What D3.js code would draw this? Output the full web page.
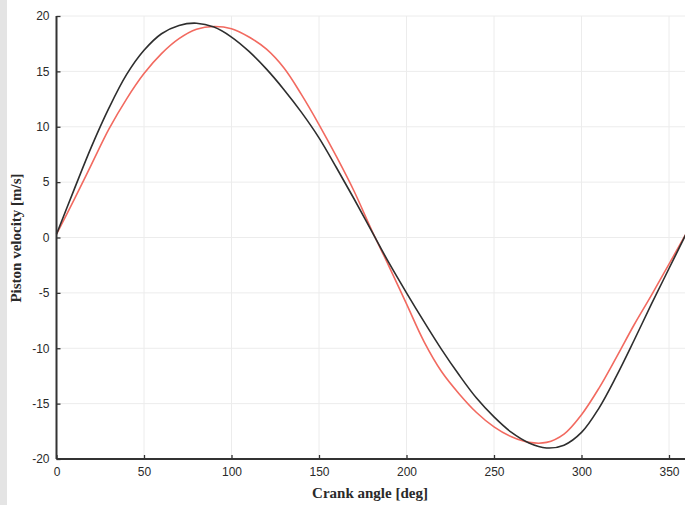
<!DOCTYPE html>
<html>
<head>
<meta charset="utf-8">
<script src="https://cdn.jsdelivr.net/npm/d3@7"></script>
<style>
  html, body { margin: 0; padding: 0; background: #fff; }
  svg { display: block; }
</style>
</head>
<body>
<svg id="chart"></svg>
<script>
// crank angle samples [deg]
var angles = [0, 10, 20, 30, 40, 50, 60, 70, 80, 90, 100, 110, 120, 130, 140, 150, 160, 170, 180,
  190, 200, 210, 220, 230, 240, 250, 260, 270, 280, 290, 300, 310, 320, 330, 340, 350, 360];

// piston velocity [m/s], black curve
var velBlack = [0.3, 4.3, 8.2, 11.7, 14.7, 16.9, 18.4, 19.15, 19.35, 19.0, 18.1, 16.8, 15.2, 13.35,
  11.3, 9.0, 6.3, 3.5, 0.6, -2.3, -5.0, -7.6, -10.1, -12.4, -14.5, -16.2, -17.6, -18.55, -19.0,
  -18.75, -17.6, -15.4, -12.5, -9.3, -6.0, -2.8, 0.4];

// piston velocity [m/s], red curve
var velRed = [0.3, 3.4, 6.6, 9.8, 12.5, 14.8, 16.6, 17.95, 18.8, 19.05, 18.85, 18.1, 17.0, 15.3,
  12.9, 10.2, 7.3, 4.2, 0.7, -2.6, -6.0, -9.4, -12.1, -14.1, -15.8, -17.1, -18.0, -18.5, -18.5,
  -17.75, -16.0, -13.6, -10.8, -7.9, -5.2, -2.4, 0.4];

var xTicks = [0, 50, 100, 150, 200, 250, 300, 350];
var yTicks = [-20, -15, -10, -5, 0, 5, 10, 15, 20];

var W = 685, H = 505;
var svg = d3.select("#chart").attr("width", W).attr("height", H);

var x = d3.scaleLinear().domain([0, 360]).range([56.5, 686.5]);
var y = d3.scaleLinear().domain([-20, 20]).range([459, 16]);

// scan edge shading
svg.append("rect").attr("x", 0).attr("y", 0).attr("width", 7).attr("height", H)
  .attr("fill", "#e4e4e4");

// grid
var grid = svg.append("g").attr("stroke", "#ececec").attr("stroke-width", 1);
grid.selectAll("line.gx").data(xTicks.slice(1)).join("line")
  .attr("x1", function (d) { return x(d); }).attr("x2", function (d) { return x(d); })
  .attr("y1", y(20)).attr("y2", y(-20));
grid.selectAll("line.gy").data(yTicks.slice(1)).join("line")
  .attr("x1", x(0)).attr("x2", W)
  .attr("y1", function (d) { return y(d); }).attr("y2", function (d) { return y(d); });

// curves
var pts = function (vals) {
  return angles.map(function (a, i) { return [a, vals[i]]; });
};
var line = d3.line()
  .x(function (d) { return x(d[0]); })
  .y(function (d) { return y(d[1]); })
  .curve(d3.curveCatmullRom.alpha(0.5));

svg.append("path").datum(pts(velRed)).attr("d", line)
  .attr("fill", "none").attr("stroke", "#f26a60").attr("stroke-width", 1.6);
svg.append("path").datum(pts(velBlack)).attr("d", line)
  .attr("fill", "none").attr("stroke", "#2e2e2e").attr("stroke-width", 1.6);

// axes
var fmt = function (d) { return String(d); };
var xAxis = d3.axisBottom(x).tickValues(xTicks).tickFormat(fmt)
  .tickSizeInner(-4).tickSizeOuter(0).tickPadding(8);
var yAxis = d3.axisLeft(y).tickValues(yTicks).tickFormat(fmt)
  .tickSizeInner(-4).tickSizeOuter(0).tickPadding(7);

var gx = svg.append("g").attr("transform", "translate(0," + y(-20) + ")").call(xAxis);
var gy = svg.append("g").attr("transform", "translate(" + x(0) + ",0)").call(yAxis);

[gx, gy].forEach(function (g) {
  g.select(".domain").attr("stroke", "#333").attr("stroke-width", 2);
  g.selectAll(".tick line").attr("stroke", "#333").attr("stroke-width", 1.3);
  g.selectAll(".tick text")
    .attr("fill", "#2a2a2a")
    .style("font-family", "'Liberation Sans', Arial, sans-serif")
    .style("font-size", "12px");
});
gx.select(".domain").attr("d", "M" + x(0) + ",0H" + W);
gy.select(".domain").attr("d", "M0," + y(20) + "V" + y(-20));

// axis titles
svg.append("text")
  .attr("x", 370).attr("y", 498)
  .attr("text-anchor", "middle")
  .attr("fill", "#2a2a2a")
  .style("font-family", "'Liberation Serif', 'Times New Roman', serif")
  .style("font-size", "15px")
  .style("font-weight", "bold")
  .text("Crank angle [deg]");

svg.append("text")
  .attr("transform", "translate(21,238) rotate(-90)")
  .attr("text-anchor", "middle")
  .attr("fill", "#2a2a2a")
  .style("font-family", "'Liberation Serif', 'Times New Roman', serif")
  .style("font-size", "15px")
  .style("font-weight", "bold")
  .text("Piston velocity [m/s]");
</script>
</body>
</html>
